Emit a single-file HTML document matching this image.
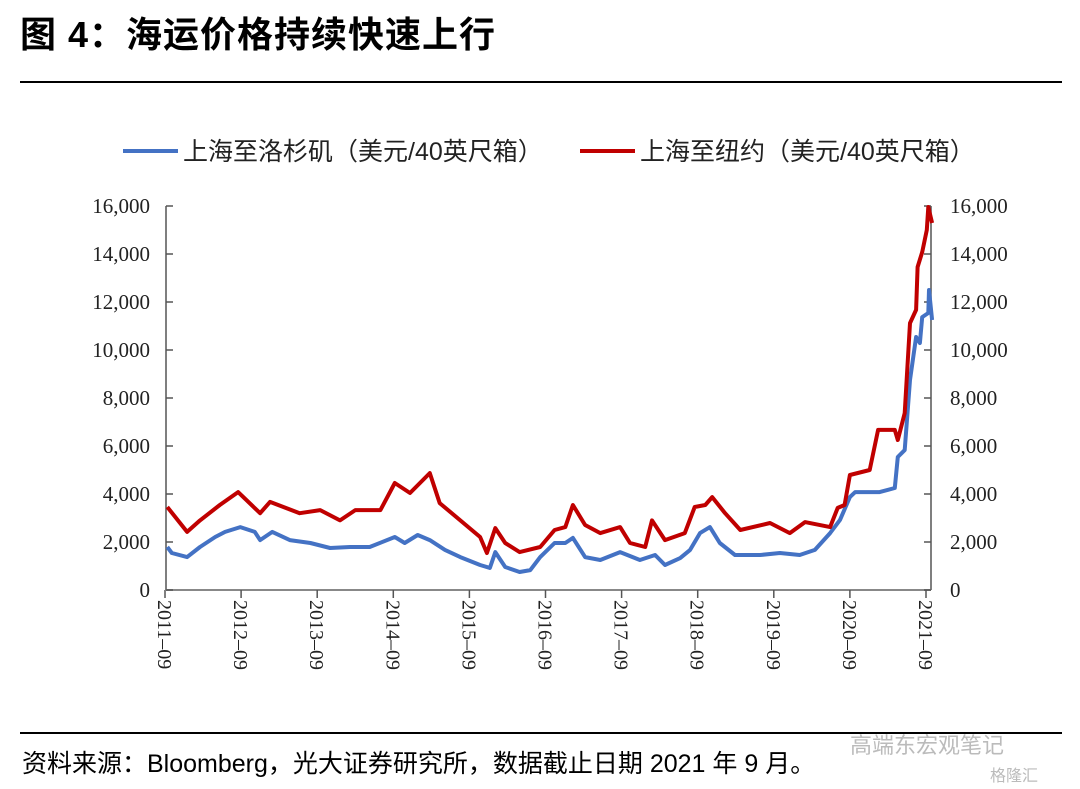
<!DOCTYPE html>
<html><head><meta charset="utf-8"><style>
body{margin:0;width:1080px;height:789px;background:#fff;overflow:hidden;position:relative;font-family:"Liberation Sans","Noto Sans CJK SC",sans-serif}
.t{position:absolute;white-space:nowrap}
</style></head><body>
<div class="t" style="left:20px;top:6px;font-size:36px;letter-spacing:1px;font-weight:bold;color:#000">图 4：海运价格持续快速上行</div>
<div style="position:absolute;left:20px;top:81px;width:1042px;height:2px;background:#000"></div>
<svg id="chart" width="1080" height="789" style="position:absolute;left:0;top:0"></svg>
<div style="position:absolute;left:20px;top:732px;width:1042px;height:2px;background:#000"></div>
<div class="t" style="left:22px;top:744px;font-size:25px;color:#000">资料来源：Bloomberg，光大证券研究所，数据截止日期 2021 年 9 月。</div>
<div class="t" style="left:850px;top:728px;font-size:22px;color:#bbb">高端东宏观笔记</div>
<div class="t" style="left:990px;top:762px;font-size:16px;color:#bbb">格隆汇</div>
<script>
const laDates=[2011.70,2011.76,2011.96,2012.13,2012.33,2012.46,2012.66,2012.85,2012.92,2013.08,2013.31,2013.58,2013.84,2014.10,2014.36,2014.69,2014.82,2014.99,2015.15,2015.35,2015.55,2015.81,2015.94,2016.01,2016.14,2016.33,2016.47,2016.60,2016.79,2016.93,2017.03,2017.19,2017.39,2017.65,2017.91,2018.11,2018.24,2018.44,2018.57,2018.70,2018.83,2018.96,2019.16,2019.49,2019.75,2020.01,2020.21,2020.41,2020.54,2020.67,2020.74,2021.06,2021.26,2021.30,2021.39,2021.46,2021.54,2021.59,2021.62,2021.70,2021.71,2021.75];
const laValues=[1790,1540,1370,1790,2210,2420,2620,2420,2080,2420,2080,1960,1750,1790,1790,2210,1960,2290,2080,1670,1370,1040,920,1580,960,750,830,1370,1960,1960,2170,1370,1250,1580,1250,1460,1040,1330,1670,2370,2620,1960,1460,1460,1540,1460,1670,2370,2920,3870,4080,4080,4250,5540,5830,8750,10540,10290,11370,11540,12500,11250];
const nyDates=[2011.70,2011.96,2012.13,2012.39,2012.63,2012.92,2013.05,2013.44,2013.71,2013.97,2014.17,2014.50,2014.69,2014.89,2015.15,2015.28,2015.55,2015.81,2015.90,2016.01,2016.14,2016.33,2016.60,2016.79,2016.93,2017.03,2017.19,2017.39,2017.65,2017.78,2017.98,2018.07,2018.24,2018.50,2018.63,2018.77,2018.86,2019.03,2019.23,2019.62,2019.88,2020.08,2020.41,2020.51,2020.60,2020.67,2020.93,2021.04,2021.26,2021.30,2021.39,2021.46,2021.54,2021.56,2021.62,2021.68,2021.70,2021.75];
const nyValues=[3460,2420,2900,3540,4080,3200,3670,3200,3330,2900,3330,3330,4460,4040,4870,3620,2900,2210,1540,2580,1960,1580,1790,2500,2620,3540,2710,2370,2620,1960,1790,2900,2080,2370,3460,3540,3870,3200,2500,2790,2370,2830,2620,3420,3540,4790,5000,6670,6670,6250,7370,11120,11670,13460,14080,15000,15960,15290];
const yTicks=[0,2000,4000,6000,8000,10000,12000,14000,16000];
const xTickLabels=["2011-09","2012-09","2013-09","2014-09","2015-09","2016-09","2017-09","2018-09","2019-09","2020-09","2021-09"];
const NS="http://www.w3.org/2000/svg";
const svg=document.getElementById('chart');
const X0=166,X1=931,Y0=590,Y1=206;
const xs=d=>165+(d-2011.67)*76.1;
const ys=v=>Y0-(v/16000)*(Y0-Y1);
function mk(tag,attrs){const e=document.createElementNS(NS,tag);for(const k in attrs)e.setAttribute(k,attrs[k]);svg.appendChild(e);return e;}
let e;
e=mk('line',{x1:X0,y1:Y1,x2:X0,y2:Y0,stroke:'#555','stroke-width':1.5});


e=mk('line',{x1:X1,y1:Y1,x2:X1,y2:Y0,stroke:'#555','stroke-width':1.5});


e=mk('line',{x1:X0,y1:Y0,x2:X1,y2:Y0,stroke:'#888','stroke-width':2});


yTicks.forEach(v=>{
 const y=ys(v);
 e=mk('line',{x1:X0,y1:y,x2:X0+7,y2:y,stroke:'#555','stroke-width':1.5});
 
 
 e=mk('line',{x1:X1-7,y1:y,x2:X1,y2:y,stroke:'#555','stroke-width':1.5});
 
 
 const lab=v.toLocaleString('en-US');
 e=mk('text',{x:150,y:y+7,'text-anchor':'end','font-size':21,'font-family':'Liberation Serif, serif',fill:'#222'});e.textContent=lab;
 
 
 e=mk('text',{x:950,y:y+7,'text-anchor':'start','font-size':21,'font-family':'Liberation Serif, serif',fill:'#222'});e.textContent=lab;
 
 
});
xTickLabels.forEach((l,i)=>{
 const x=xs(2011.67+i);
 e=mk('line',{x1:x,y1:Y0,x2:x,y2:Y0+8,stroke:'#555','stroke-width':1.5});
 
 
 e=mk('text',{x:0,y:0,'font-size':20,'font-family':'Liberation Serif, serif',fill:'#222',transform:`translate(${x-7},600) rotate(90)`});e.textContent=l.replace('-','–');
 
 
});
function series(dates,vals,color,name){
 const d=dates.map((t,i)=>(i?'L':'M')+xs(t).toFixed(1)+','+ys(vals[i]).toFixed(1)).join('');
 const p=mk('path',{d:d,fill:'none',stroke:color,'stroke-width':4,'stroke-linejoin':'round'});
 
 
}
series(laDates,laValues,'#4472C4','series-shanghai-la');
series(nyDates,nyValues,'#C00000','series-shanghai-ny');
e=mk('line',{x1:123,y1:151,x2:178,y2:151,stroke:'#4472C4','stroke-width':4});


e=mk('text',{x:183,y:160,'font-size':25,fill:'#222','font-family':'Liberation Sans, Noto Sans CJK SC, sans-serif'});e.textContent='上海至洛杉矶（美元/40英尺箱）';


e=mk('line',{x1:580,y1:151,x2:635,y2:151,stroke:'#C00000','stroke-width':4});


e=mk('text',{x:640,y:160,'font-size':25,fill:'#222','font-family':'Liberation Sans, Noto Sans CJK SC, sans-serif'});e.textContent='上海至纽约（美元/40英尺箱）';


</script>
</body></html>
